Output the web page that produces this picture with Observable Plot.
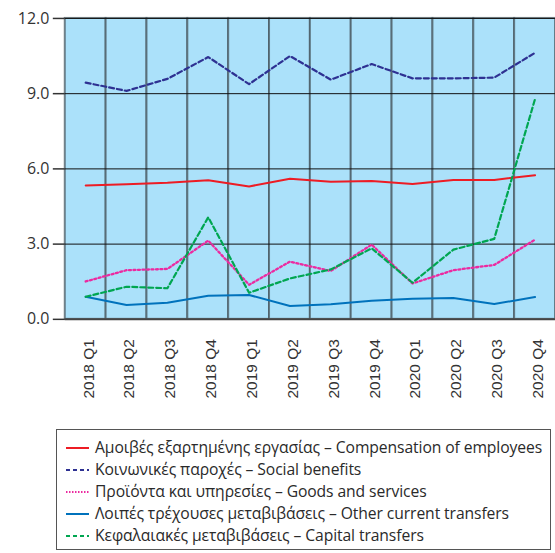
<!DOCTYPE html>
<html>
<head>
<meta charset="utf-8">
<script src="https://cdn.jsdelivr.net/npm/d3@7"></script>
<script src="https://cdn.jsdelivr.net/npm/@observablehq/plot@0.6"></script>
<style>
  html, body { margin: 0; padding: 0; background: #fff; overflow: hidden; }
  #wrap { position: relative; width: 555px; height: 553px; overflow: hidden; }
  #legend { position: absolute; left: 56px; top: 429px; width: 495px; height: 121px;
    border: 1.5px solid #555; box-sizing: border-box; font-family: "Open Sans", sans-serif;
    font-size: 15.7px; color: #2a2a2a; padding-top: 6px; }
  .row { position: relative; height: 22px; line-height: 22px; white-space: nowrap; }
  .row svg { position: absolute; left: 9px; top: 10px; }
  .row span { position: absolute; left: 38px; top: 0; letter-spacing: -0.1px; }
</style>
</head>
<body>
<div id="wrap">
  <div id="chart"></div>
  <div id="legend"></div>
</div>
<script>
const quarters = ["2018 Q1","2018 Q2","2018 Q3","2018 Q4","2019 Q1","2019 Q2","2019 Q3","2019 Q4","2020 Q1","2020 Q2","2020 Q3","2020 Q4"];
const compensation = [5.34,5.39,5.45,5.55,5.30,5.61,5.49,5.52,5.40,5.56,5.56,5.75];
const socialBenefits = [9.44,9.11,9.59,10.46,9.38,10.50,9.56,10.18,9.61,9.61,9.64,10.63];
const goodsServices = [1.51,1.96,2.01,3.14,1.38,2.30,1.93,2.98,1.43,1.96,2.17,3.18];
const otherTransfers = [0.90,0.57,0.66,0.94,0.97,0.53,0.60,0.74,0.82,0.85,0.61,0.89];
const capitalTransfers = [0.90,1.30,1.24,4.07,1.06,1.63,1.99,2.83,1.46,2.78,3.21,8.79];
const seriesNames = [
  "Αμοιβές εξαρτημένης εργασίας – Compensation of employees",
  "Κοινωνικές παροχές – Social benefits",
  "Προϊόντα και υπηρεσίες – Goods and services",
  "Λοιπές τρέχουσες μεταβιβάσεις – Other current transfers",
  "Κεφαλαιακές μεταβιβάσεις – Capital transfers"
];
const yTicks = [0, 3, 6, 9, 12];

const styles = [
  {color: "#ed1c24", dash: null, w: 2},
  {color: "#2e3192", dash: "5,3", w: 2.2},
  {color: "#ec2aa0", dash: "2,2.5", w: 2.3},
  {color: "#0072bc", dash: null, w: 2},
  {color: "#00a651", dash: "5,3", w: 2.2}
];
const allValues = [compensation, socialBenefits, goodsServices, otherTransfers, capitalTransfers];
const series = seriesNames.map((name, k) => ({name, values: allValues[k], ...styles[k]}));

const lineMarks = series.map(s => Plot.line(
  quarters.map((q, i) => ({q, v: s.values[i]})),
  {x: "q", y: "v", stroke: s.color, strokeWidth: s.w, strokeDasharray: s.dash || undefined, curve: "linear"}
));

const chart = Plot.plot({
  width: 557,
  height: 420,
  marginLeft: 65,
  marginRight: 0,
  marginTop: 18,
  marginBottom: 100,
  style: {fontFamily: "Open Sans", background: "transparent"},
  x: {type: "band", domain: quarters, padding: 0, axis: null, label: null},
  y: {domain: [0, 12], axis: null, label: null},
  marks: [
    Plot.cell(quarters, {x: d => d, fill: "#abe1fa", stroke: "#4a5a62", strokeWidth: 2, strokeOpacity: 0.75, inset: 0}),
    Plot.ruleY(yTicks.filter(d => d > 0), {stroke: "#111", strokeWidth: 1}),
    ...lineMarks,
    Plot.ruleY([0], {stroke: "#444", strokeWidth: 2}),
    Plot.axisY({ticks: yTicks, tickSize: 12, tickPadding: 4, tickFormat: d3.format(".1f"), label: null,
      fontSize: 16, fontFamily: "Open Sans", color: "#333", strokeWidth: 1.5}),
    Plot.axisX({tickSize: 0, tickRotate: -90, tickPadding: 20, dx: 3, label: null,
      fontSize: 15.5, fontFamily: "Liberation Sans", color: "#333"})
  ]
});
document.getElementById("chart").appendChild(chart);

const legend = document.getElementById("legend");
series.forEach(s => {
  const row = document.createElement("div");
  row.className = "row";
  row.innerHTML = `<svg width="24" height="4"><line x1="0" y1="2" x2="23" y2="2" stroke="${s.color}" stroke-width="2" ${s.dash ? `stroke-dasharray="${s.dash === "2,2.5" ? "1.5,1.5" : "4,3"}"` : ""}/></svg><span>${s.name}</span>`;
  legend.appendChild(row);
});
</script>
</body>
</html>
